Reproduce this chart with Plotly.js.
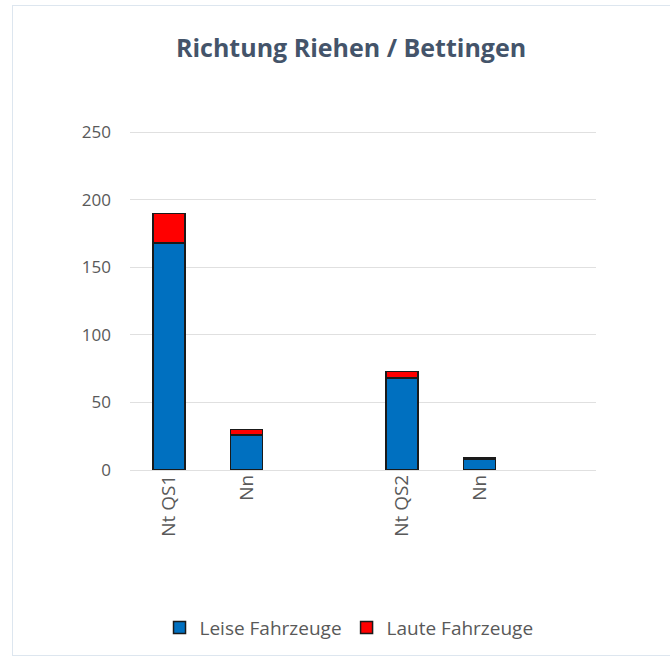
<!DOCTYPE html>
<html>
<head>
<meta charset="utf-8">
<script src="https://cdn.plot.ly/plotly-3.0.1.min.js"></script>
<style>
  html, body { margin: 0; padding: 0; background: #ffffff; }
  #chart { position: absolute; left: 0; top: 0; width: 670px; height: 658px; }
  #frame { position: absolute; left: 12px; top: 5px; width: 662px; height: 649px; border: 1px solid #dde6ef; pointer-events: none; }
</style>
</head>
<body>
<div id="chart"></div>
<div id="frame"></div>
<script>
const categories = ["Nt QS1", "Nn", "", "Nt QS2", "Nn", ""];
const leise = [168, 26, null, 68, 8, null];
const laute = [22, 4, null, 5, 1, null];
const seriesNames = ["Leise Fahrzeuge", "Laute Fahrzeuge"];
const yTicks = [0, 50, 100, 150, 200, 250];

const idx = categories.map((c, i) => i);
const lineStyle = { color: "#1a1a1a", width: 1.5 };

const data = [
  { type: "bar", name: seriesNames[0], x: idx, y: leise,
    marker: { color: "#0070c0", line: lineStyle }, hoverinfo: "y" },
  { type: "bar", name: seriesNames[1], x: idx, y: laute,
    marker: { color: "#ff0000", line: lineStyle }, hoverinfo: "y" }
];

const layout = {
  width: 670, height: 658,
  paper_bgcolor: "rgba(0,0,0,0)", plot_bgcolor: "rgba(0,0,0,0)",
  margin: { l: 130, r: 74, t: 131, b: 185 },
  barmode: "stack",
  bargap: 0.59,
  font: { family: "Open Sans, Noto Sans, sans-serif", color: "#595959", size: 17 },
  title: { text: "<b>Richtung Riehen / Bettingen</b>", xref: "container", x: 0.524, xanchor: "center",
           yref: "container", y: 0.927, yanchor: "middle",
           font: { size: 25, color: "#44546a", family: "Open Sans, Noto Sans, sans-serif" } },
  xaxis: {
    range: [-0.5, categories.length - 0.5],
    tickmode: "array", tickvals: idx, ticktext: categories,
    tickangle: -90, showgrid: false, zeroline: false,
    showline: false, ticks: "", fixedrange: true,
    tickfont: { size: 19, color: "#595959" }
  },
  yaxis: {
    range: [0, 251], tickmode: "array", tickvals: yTicks,
    showgrid: true, gridcolor: "#e0e0e0", gridwidth: 1,
    zeroline: true, zerolinecolor: "#e0e0e0", zerolinewidth: 1,
    showline: false, ticks: "", ticklen: 0, fixedrange: true,
    tickfont: { size: 17, color: "#595959" },
    ticklabelstandoff: 18
  },
  showlegend: true,
  legend: { orientation: "h", x: 0.47, xanchor: "center", y: -0.465, yanchor: "middle",
            font: { size: 19, color: "#595959" }, traceorder: "normal",
            itemwidth: 30 }
};

Plotly.newPlot("chart", data, layout, { displayModeBar: false, staticPlot: true });
</script>
</body>
</html>
